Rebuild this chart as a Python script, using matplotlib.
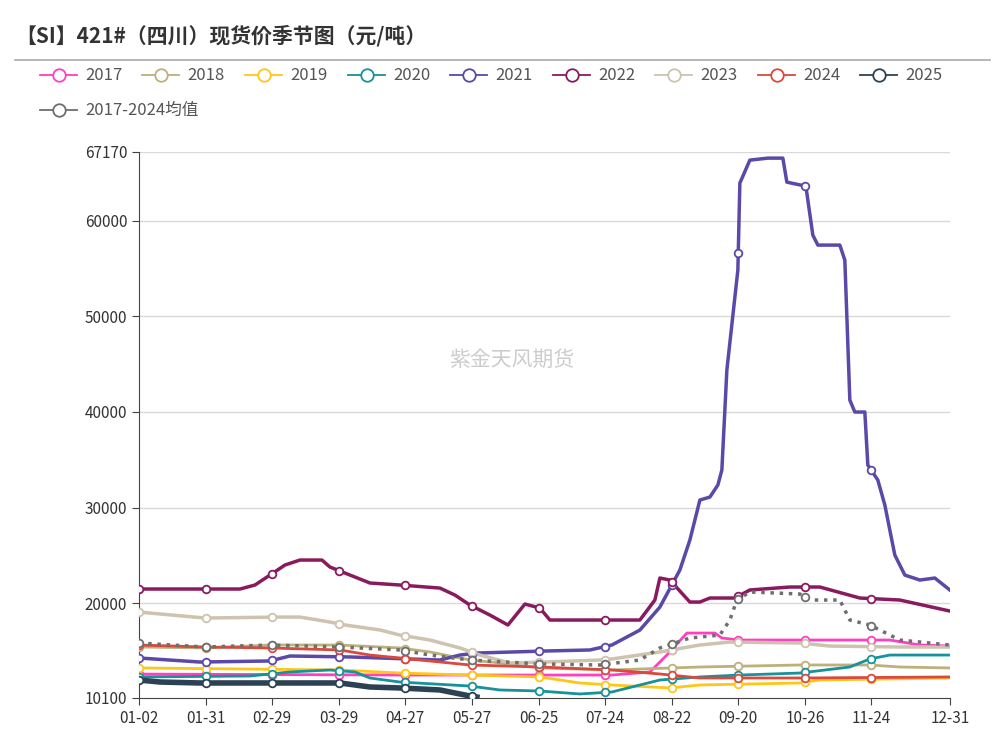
import numpy as np
import matplotlib
matplotlib.use("Agg")
import matplotlib.pyplot as plt
from matplotlib.lines import Line2D
from matplotlib import font_manager as fm
import glob

tick_labels = ["01-02","01-31","02-29","03-29","04-27","05-27","06-25","07-24","08-22","09-20","10-26","11-24","12-31"]
tick_pos = [0,1,2,3,4,5,6,7,8,9,10,11,12.18]

def U(px):  # helper converting read-off pixel positions to tick units
    return [(p-139)/66.6 for p in px]

x2017 = U([139,400,612,650,667,687,715,722,740,890,920,950])
v2017 = [12600,12500,12500,12820,14590,16890,16890,16370,16160,16160,15640,15530]
x2018 = U([139,205,270,340,400,430,470,500,540,612,700,800,870,900,950])
v2018 = [15430,15330,15640,15640,15330,14910,14070,13760,13240,13030,13340,13550,13550,13340,13240]
x2019 = U([139,340,400,470,540,580,612,670,700,800,820,950])
v2019 = [13240,13030,12710,12500,12300,11670,11460,11150,11460,11670,11980,12190]
x2020 = U([139,250,290,330,355,370,400,470,500,540,580,612,660,700,740,800,850,870,890,950])
v2020 = [12300,12400,12820,13030,12820,12190,11770,11350,10940,10830,10520,10730,11980,12300,12500,12710,13340,14180,14590,14590]
x2021 = U([139,200,270,290,350,440,460,477,545,590,612,640,660,680,690,700,710,718,722,727,738,740,750,768,783,787,806,813,818,840,845,850,855,865,868,878,885,895,905,920,935,950])
v2021 = [14280,13860,13970,14490,14390,14070,14590,14800,15010,15120,15640,17200,19600,23480,26610,30790,31100,32360,33930,44380,54830,63920,66320,66530,66530,64020,63600,58480,57440,57440,55870,41240,39990,39990,34450,32880,30270,25040,22950,22430,22640,21390]
x2022 = U([139,240,255,270,285,300,322,330,345,370,400,440,455,470,490,508,525,540,550,600,640,655,660,670,690,700,710,735,750,790,820,860,900,950])
v2022 = [21490,21490,21910,22950,24000,24520,24520,23790,23160,22120,21910,21590,20860,19820,18770,17730,19920,19500,18250,18250,18250,20340,22640,22430,20130,20130,20550,20550,21390,21700,21700,20550,20340,19190]
x2023 = U([139,205,280,300,330,345,380,400,430,460,480,510,545,600,612,660,700,730,800,830,900,950])
v2023 = [19080,18460,18560,18560,18040,17730,17210,16680,16160,15330,14590,13760,13860,14070,14180,14910,15640,15950,15850,15530,15430,15430]
x2024 = U([139,205,270,340,370,400,470,540,612,660,700,800,950])
v2024 = [15640,15430,15330,15120,14590,14280,13550,13340,13030,12610,12190,12190,12300]
x2025 = U([139,160,200,340,370,400,440,470,477])
v2025 = [11980,11770,11670,11670,11250,11150,10940,10310,10200]
xavg = U([139,205,270,340,400,430,470,540,600,640,660,690,720,730,737,750,800,810,840,850,870,900,950])
vavg = [15850,15430,15640,15430,15120,14590,14070,13660,13550,14070,15330,16370,16680,18250,20340,21180,20970,20340,20340,18250,17730,16160,15640]

series = [
    ("2017", x2017, v2017, "#ff3fbf", 2.0, "-"),
    ("2018", x2018, v2018, "#bdb07a", 2.0, "-"),
    ("2019", x2019, v2019, "#ffc61a", 2.0, "-"),
    ("2020", x2020, v2020, "#17919a", 2.0, "-"),
    ("2021", x2021, v2021, "#5b48a8", 2.5, "-"),
    ("2022", x2022, v2022, "#8a1a5e", 2.5, "-"),
    ("2023", x2023, v2023, "#cdc3ae", 2.5, "-"),
    ("2024", x2024, v2024, "#d9493e", 2.0, "-"),
    ("2025", x2025, v2025, "#2c4254", 4.0, "-"),
    ("2017-2024均值", xavg, vavg, "#6e6e6e", 2.5, ":"),
]

# locate a CJK font
cjk = None
for f in fm.findSystemFonts():
    if "CJK" in f and ("SC" in f or "Regular" in f or f.endswith(".ttc")):
        try:
            fm.fontManager.addfont(f)
        except Exception:
            pass
names = [f.name for f in fm.fontManager.ttflist]
for cand in ["Noto Sans CJK SC", "Noto Sans CJK JP", "Noto Sans CJK TC", "Noto Sans CJK KR"]:
    if cand in names:
        cjk = cand
        break
if cjk is None:
    cjk = next((n for n in names if "CJK" in n), "DejaVu Sans")
plt.rcParams["font.family"] = [cjk, "DejaVu Sans"]

fig = plt.figure(figsize=(10.05, 7.35), dpi=100)
W, H = 1005, 735
ax = fig.add_axes([139/W, 1-698/H, (950-139)/W, (698-152)/H])

for name, xs, vs, c, lw, ls in series:
    ax.plot(xs, vs, color=c, lw=lw, ls=ls, zorder=3, solid_joinstyle="round")
    mk = [t for t in tick_pos if xs[0] <= t <= xs[-1]]
    ax.plot(mk, np.interp(mk, xs, vs), ls="none", marker="o", ms=5.5,
            mfc="white", mec=c, mew=1.3, zorder=4)

ax.set_xlim(0, 12.18)
ax.set_ylim(10100, 67170)
yt = [10100, 20000, 30000, 40000, 50000, 60000, 67170]
ax.set_yticks(yt)
ax.set_yticklabels([str(v) for v in yt], fontsize=11, color="#333333")
ax.set_xticks(tick_pos)
ax.set_xticklabels(tick_labels, fontsize=11, color="#333333")
for v in yt[1:]:
    ax.axhline(v, color="#d9d9d9", lw=1, zorder=1)
for s in ["top", "right"]:
    ax.spines[s].set_visible(False)
for s in ["left", "bottom"]:
    ax.spines[s].set_color("#444444")
ax.tick_params(direction="out", length=5, color="#444444")

ax.text(0.46, 0.62, "紫金天风期货", transform=ax.transAxes, fontsize=15,
        color="#cccccc", ha="center", va="center", zorder=0)

fig.text(15/W, 1-36/H, "【SI】421#（四川）现货价季节图（元/吨）", fontsize=15,
         fontweight="bold", color="#333333", va="center")
fig.add_artist(Line2D([15/W, 990/W], [1-60/H, 1-60/H], color="#aaaaaa", lw=1.2))

pos = [(40, 75), (142, 75), (245, 75), (348, 75), (450, 75), (553, 75), (655, 75), (758, 75), (860, 75), (40, 110)]
for (name, xs, vs, c, lw, ls), (px, py) in zip(series, pos):
    yy = 1 - py/H
    fig.add_artist(Line2D([px/W, (px+37)/W], [yy, yy], color=c, lw=1.3))
    fig.add_artist(Line2D([(px+18.5)/W], [yy], marker="o", ms=9, mfc="white", mec=c, mew=1.3))
    fig.text((px+45)/W, yy, name, fontsize=12, color="#555555", va="center")

fig.savefig("out.png", dpi=100, facecolor="white")
